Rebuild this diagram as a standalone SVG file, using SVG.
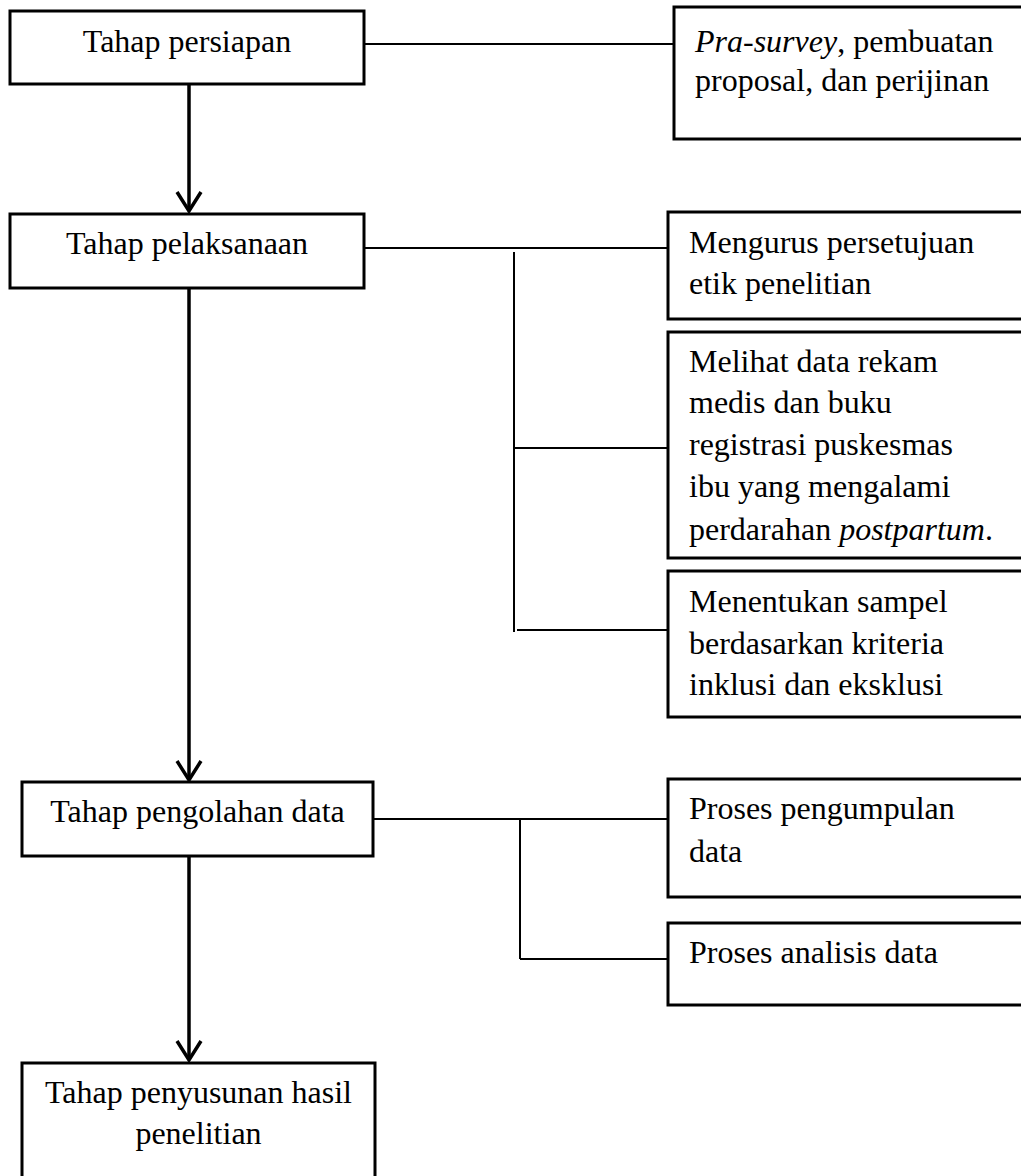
<svg xmlns="http://www.w3.org/2000/svg" width="1021" height="1176" viewBox="0 0 1021 1176">
<defs>
<style>
.box{fill:#fff;stroke:#000;stroke-width:3}
.t{font-family:"Liberation Serif","Times New Roman",serif;font-size:32px;fill:#000}
.c{text-anchor:middle}
.thin{stroke:#000;stroke-width:2;fill:none}
.thick{stroke:#000;stroke-width:3.5;fill:none}
</style>
</defs>
<rect width="1021" height="1176" fill="#fff"/>
<g id="connectors">
<line class="thick" x1="189" y1="84" x2="189" y2="209"/>
<line class="thick" x1="189" y1="288" x2="189" y2="778"/>
<line class="thick" x1="189" y1="856" x2="189" y2="1058"/>
<line class="thin" x1="364" y1="44" x2="674" y2="44"/>
<line class="thin" x1="364" y1="248" x2="668" y2="248"/>
<line class="thin" x1="514" y1="252" x2="514" y2="632"/>
<line class="thin" x1="514" y1="448" x2="668" y2="448"/>
<line class="thin" x1="517" y1="630" x2="668" y2="630"/>
<line class="thin" x1="373" y1="819" x2="668" y2="819"/>
<line class="thin" x1="520" y1="819" x2="520" y2="959"/>
<line class="thin" x1="520" y1="959" x2="673" y2="959"/>
<path class="thick" d="M177,192 L189,211 L201,192"/>
<path class="thick" d="M177,761 L189,780 L201,761"/>
<path class="thick" d="M177,1041 L189,1060 L201,1041"/>
</g>
<g id="n1"><rect class="box" x="10" y="11" width="354" height="73"/><text class="t c" x="187" y="52">Tahap persiapan</text></g>
<g id="n2"><rect class="box" x="10" y="214" width="354" height="74"/><text class="t c" x="187" y="254">Tahap pelaksanaan</text></g>
<g id="n3"><rect class="box" x="22" y="782" width="351" height="74"/><text class="t c" x="197.5" y="822">Tahap pengolahan data</text></g>
<g id="n4"><rect class="box" x="22" y="1063" width="353" height="130"/><text class="t c" x="198.5" y="1103">Tahap penyusunan hasil</text><text class="t c" x="198.5" y="1144">penelitian</text></g>
<g id="r1"><rect class="box" x="674" y="7" width="360" height="132"/><text class="t" x="695" y="52"><tspan font-style="italic">Pra-survey</tspan>, pembuatan</text><text class="t" x="695" y="91">proposal, dan perijinan</text></g>
<g id="r2"><rect class="box" x="668" y="212" width="367" height="107"/><text class="t" x="689" y="253">Mengurus persetujuan</text><text class="t" x="689" y="294">etik penelitian</text></g>
<g id="r3"><rect class="box" x="668" y="332" width="367" height="226"/><text class="t" x="689" y="372">Melihat data rekam</text><text class="t" x="689" y="413">medis dan buku</text><text class="t" x="689" y="455">registrasi puskesmas</text><text class="t" x="689" y="497">ibu yang mengalami</text><text class="t" x="689" y="540">perdarahan <tspan font-style="italic">postpartum</tspan>.</text></g>
<g id="r4"><rect class="box" x="668" y="571" width="367" height="146"/><text class="t" x="689" y="612">Menentukan sampel</text><text class="t" x="689" y="654">berdasarkan kriteria</text><text class="t" x="689" y="695">inklusi dan eksklusi</text></g>
<g id="r5"><rect class="box" x="668" y="779" width="367" height="118"/><text class="t" x="689" y="819">Proses pengumpulan</text><text class="t" x="689" y="862">data</text></g>
<g id="r6"><rect class="box" x="668" y="923" width="367" height="82"/><text class="t" x="689" y="963">Proses analisis data</text></g>
</svg>
